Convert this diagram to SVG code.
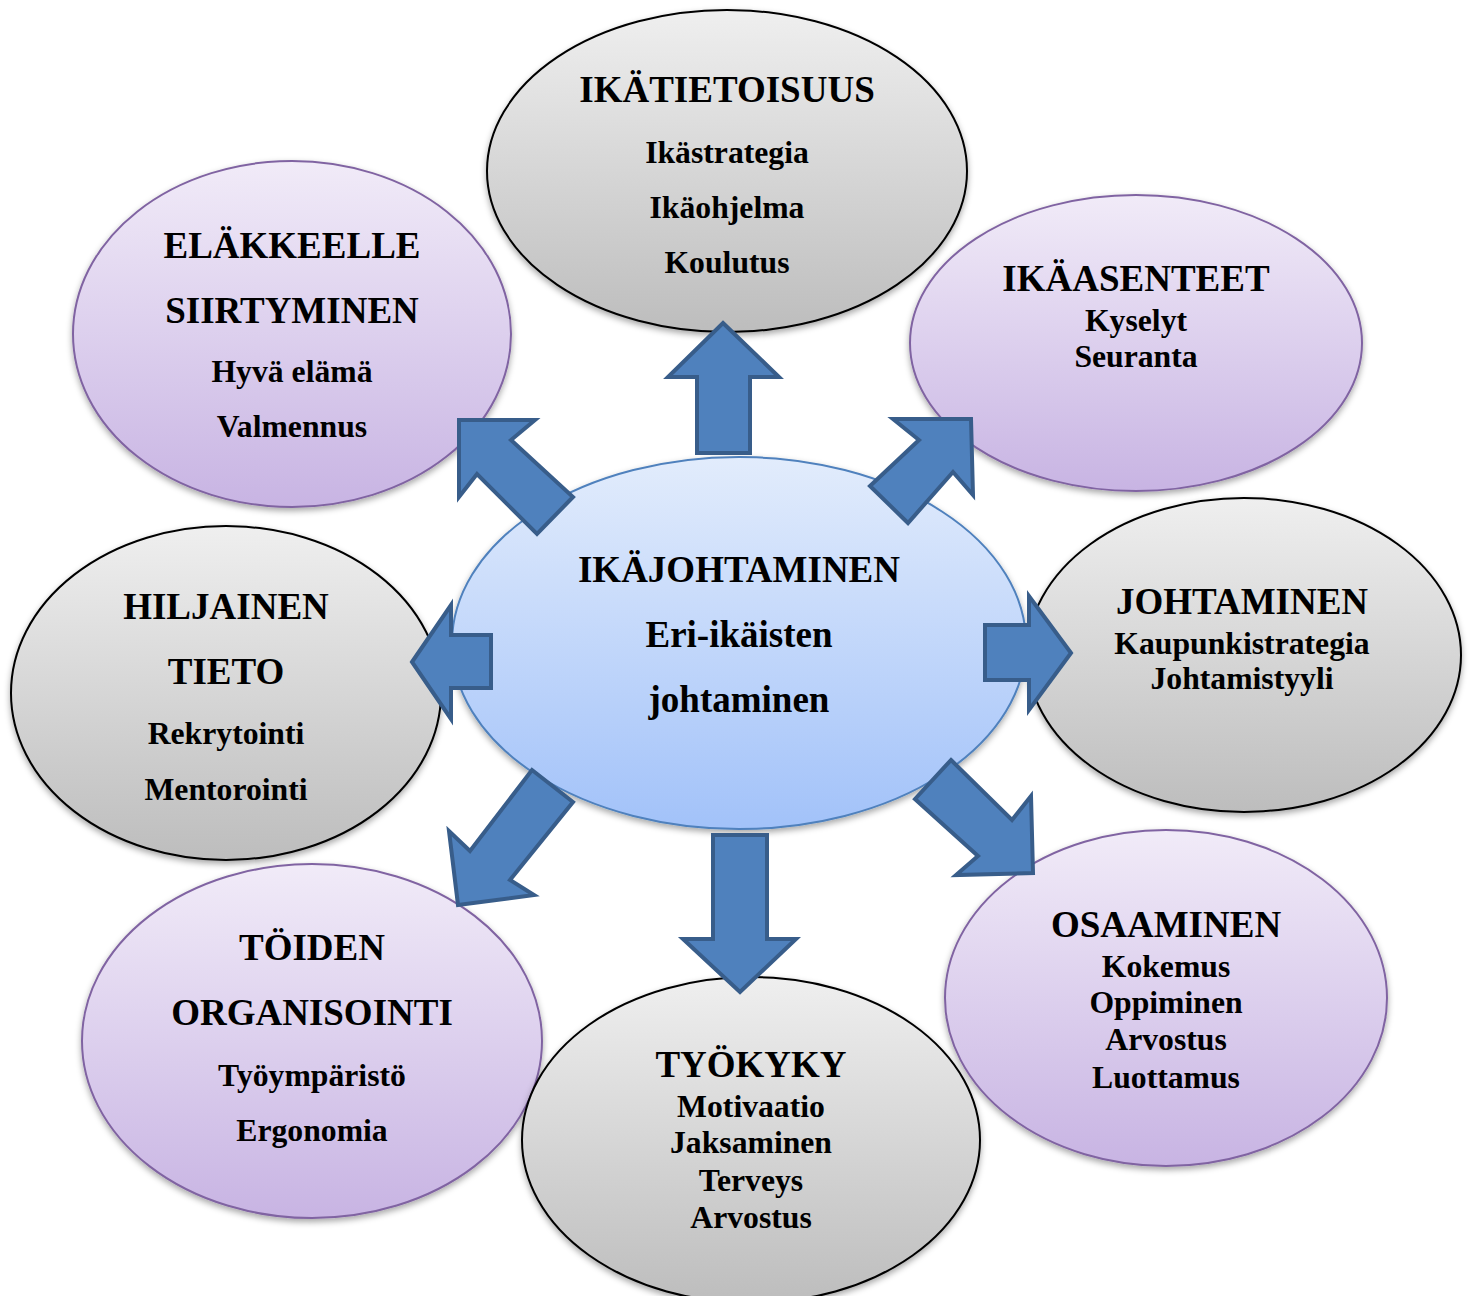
<svg xmlns="http://www.w3.org/2000/svg" width="1471" height="1296" viewBox="0 0 1471 1296">
<defs>
<linearGradient id="gGray" x1="0" y1="0" x2="0" y2="1">
<stop offset="0" stop-color="#EFEFEF"/><stop offset="1" stop-color="#BDBDBD"/>
</linearGradient>
<linearGradient id="gPurple" x1="0" y1="0" x2="0" y2="1">
<stop offset="0" stop-color="#F1EBF8"/><stop offset="1" stop-color="#C8B4E3"/>
</linearGradient>
<linearGradient id="gBlue" x1="0" y1="0" x2="0" y2="1">
<stop offset="0" stop-color="#E2ECFC"/><stop offset="1" stop-color="#A2C2F9"/>
</linearGradient>
<filter id="sh" x="-10%" y="-10%" width="120%" height="125%">
<feDropShadow dx="0" dy="3" stdDeviation="3" flood-color="#000" flood-opacity="0.35"/>
</filter>
</defs>
<style>
.gray{fill:url(#gGray);stroke:#000;stroke-width:2;filter:url(#sh)}
.purple{fill:url(#gPurple);stroke:#8064A2;stroke-width:2;filter:url(#sh)}
.blue{fill:url(#gBlue);stroke:#4F81BD;stroke-width:2;filter:url(#sh)}
text{font-family:"Liberation Serif","Times New Roman",serif;font-weight:bold;fill:#000;text-anchor:middle}
.t{font-size:37px}
.s{font-size:31.7px}
.arrow{fill:#4F81BD;stroke:#385D8A;stroke-width:4;stroke-linejoin:miter}
</style>
<rect width="1471" height="1296" fill="#fff"/>

<g id="node-ikatietoisuus">
<ellipse class="gray" cx="727" cy="171" rx="240" ry="161"/>
<text class="t" x="727" y="102">IKÄTIETOISUUS</text>
<text class="s" x="727" y="163">Ikästrategia</text>
<text class="s" x="727" y="218">Ikäohjelma</text>
<text class="s" x="727" y="273">Koulutus</text>
</g>

<g id="node-elakkeelle">
<ellipse class="purple" cx="292" cy="334" rx="219" ry="173"/>
<text class="t" x="292" y="258">ELÄKKEELLE</text>
<text class="t" x="292" y="323">SIIRTYMINEN</text>
<text class="s" x="292" y="382">Hyvä elämä</text>
<text class="s" x="292" y="437">Valmennus</text>
</g>

<g id="node-ikaasenteet">
<ellipse class="purple" cx="1136" cy="343" rx="226" ry="148"/>
<text class="t" x="1136" y="291">IKÄASENTEET</text>
<text class="s" x="1136" y="331">Kyselyt</text>
<text class="s" x="1136" y="367">Seuranta</text>
</g>

<g id="node-hiljainen">
<ellipse class="gray" cx="226" cy="693" rx="215" ry="167"/>
<text class="t" x="226" y="619">HILJAINEN</text>
<text class="t" x="226" y="684">TIETO</text>
<text class="s" x="226" y="744">Rekrytointi</text>
<text class="s" x="226" y="800">Mentorointi</text>
</g>

<g id="node-johtaminen">
<ellipse class="gray" cx="1244" cy="655" rx="217" ry="157"/>
<text class="t" x="1242" y="614">JOHTAMINEN</text>
<text class="s" x="1242" y="654">Kaupunkistrategia</text>
<text class="s" x="1242" y="689">Johtamistyyli</text>
</g>

<g id="node-toiden">
<ellipse class="purple" cx="312" cy="1041" rx="230" ry="177"/>
<text class="t" x="312" y="960">TÖIDEN</text>
<text class="t" x="312" y="1025">ORGANISOINTI</text>
<text class="s" x="312" y="1086">Työympäristö</text>
<text class="s" x="312" y="1141">Ergonomia</text>
</g>

<g id="node-tyokyky">
<ellipse class="gray" cx="751" cy="1140" rx="229" ry="163"/>
<text class="t" x="751" y="1077">TYÖKYKY</text>
<text class="s" x="751" y="1117">Motivaatio</text>
<text class="s" x="751" y="1153">Jaksaminen</text>
<text class="s" x="751" y="1191">Terveys</text>
<text class="s" x="751" y="1228">Arvostus</text>
</g>

<g id="node-osaaminen">
<ellipse class="purple" cx="1166" cy="998" rx="221" ry="168"/>
<text class="t" x="1166" y="937">OSAAMINEN</text>
<text class="s" x="1166" y="977">Kokemus</text>
<text class="s" x="1166" y="1013">Oppiminen</text>
<text class="s" x="1166" y="1050">Arvostus</text>
<text class="s" x="1166" y="1088">Luottamus</text>
</g>

<g id="node-ikajohtaminen">
<ellipse class="blue" cx="739" cy="643" rx="287" ry="186"/>
<text class="t" x="739" y="582">IKÄJOHTAMINEN</text>
<text class="t" x="739" y="647">Eri-ikäisten</text>
<text class="t" x="739" y="712">johtaminen</text>
</g>

<g id="connectors">
<polygon class="arrow" points="723,323 779,377 750,377 750,453 697,453 697,377 668,377"/>
<polygon class="arrow" points="713,835 767,835 767,939 796,939 740,992 683,939 713,939"/>
<polygon class="arrow" points="412,662 451,605 451,635 491,635 491,688 451,688 451,719"/>
<polygon class="arrow" points="1071,653 1029,596 1029,625 985,625 985,680 1029,680 1029,710"/>
<polygon class="arrow" points="459,420 535,420 511,440 573,497 537,534 477,474 459,497"/>
<polygon class="arrow" points="971,419 893,419 919,440 870,486 908,523 953,472 973,495"/>
<polygon class="arrow" points="532,770 573,802 510,880 534,895 458,905 449,831 470,851"/>
<polygon class="arrow" points="951,760 1012,820 1031,796 1033,873 956,875 978,856 915,799"/>
</g>
</svg>
